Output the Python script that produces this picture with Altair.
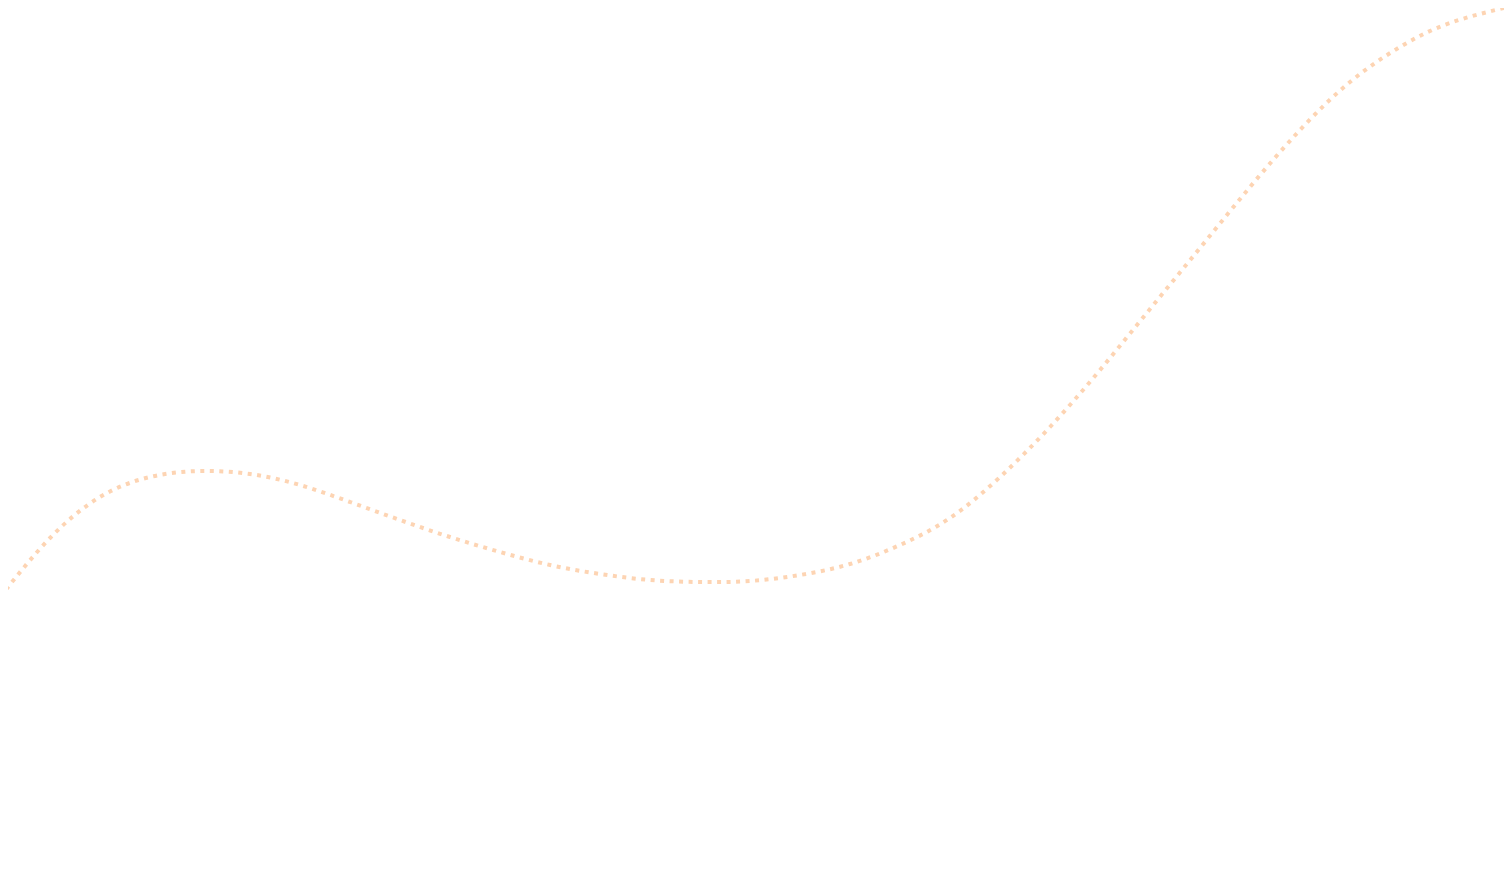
import altair as alt
import pandas as pd

x_vals = [0, 50, 100, 150, 200, 250, 300, 350, 400, 450, 500, 550, 600, 650,
          700, 750, 800, 850, 900, 950, 1000, 1050, 1100, 1150, 1200, 1250,
          1300, 1350, 1400, 1450, 1512]
y_vals = [597, 538, 497, 477, 471, 474, 485, 502, 520, 537, 552, 565, 574, 580,
          582, 581, 575, 564, 545, 518, 477, 427, 370, 309, 248, 187,
          130, 82, 47, 23, 6]

df = pd.DataFrame({"x": x_vals, "y": y_vals})

chart = (
    alt.Chart(df)
    .mark_line(
        interpolate="natural",
        color="#fdd4b3",
        strokeWidth=4,
        strokeDash=[4, 5.5],
        clip=True,
    )
    .encode(
        x=alt.X("x:Q", axis=None, scale=alt.Scale(domain=[8, 1504], nice=False, zero=False)),
        y=alt.Y("y:Q", axis=None, scale=alt.Scale(domain=[8, 867], nice=False, zero=False, reverse=True)),
    )
    .properties(width=1496, height=859, padding=0, autosize=alt.AutoSizeParams(type="none"))
    .configure_view(stroke=None)
)

chart.save("out.html", embed_options={"renderer": "svg", "actions": False})
